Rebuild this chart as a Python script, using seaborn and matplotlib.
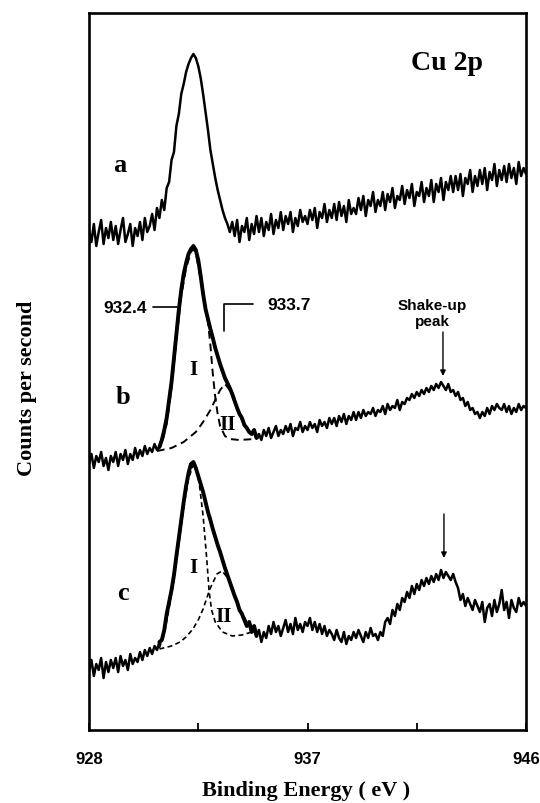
import numpy as np
import pandas as pd
import matplotlib
matplotlib.use("Agg")
import matplotlib.pyplot as plt
import seaborn as sns

# ---------------- data ----------------
energy = np.round(np.arange(928.0, 946.05, 0.1), 1)  # binding-energy grid, eV

spec_a = [
    500, 488, 506, 484, 498, 510, 486, 502, 492, 508,
    490, 504, 486, 500, 512, 488, 496, 506, 484, 502,
    494, 508, 490, 512, 498, 504, 516, 500, 522, 512,
    530, 520, 542, 548, 570, 578, 604, 616, 636, 646,
    658, 666, 672, 676, 672, 664, 652, 636, 618, 600,
    580, 566, 552, 540, 530, 520, 512, 506, 498, 508,
    494, 510, 488, 504, 498, 512, 490, 506, 496, 514,
    498, 512, 494, 508, 500, 516, 496, 510, 502, 518,
    500, 514, 506, 518, 498, 512, 504, 520, 508, 514,
    506, 520, 510, 522, 502, 518, 512, 526, 508, 520,
    512, 526, 510, 528, 514, 524, 508, 530, 516, 522,
    516, 532, 520, 534, 514, 530, 524, 538, 518, 530,
    524, 538, 520, 536, 528, 542, 522, 534, 530, 544,
    526, 540, 532, 546, 524, 538, 534, 548, 528, 542,
    534, 550, 528, 546, 538, 552, 530, 548, 540, 554,
    538, 554, 540, 556, 534, 552, 546, 560, 538, 554,
    544, 560, 546, 562, 540, 558, 550, 566, 544, 560,
    550, 564, 548, 566, 552, 562, 546, 568, 554, 562,
    556,
]

spec_b = [
    266, 276, 262, 274, 268, 278, 264, 272, 260, 274,
    268, 278, 264, 276, 270, 280, 266, 276, 270, 282,
    272, 280, 274, 284, 276, 282, 278, 286, 280, 283,
    290, 300, 312, 330, 348, 372, 396, 420, 440, 456,
    467, 476, 481, 484, 480, 470, 454, 436, 421, 411,
    401, 392, 382, 374, 366, 359, 352, 347, 342, 336,
    329, 322, 316, 312, 305, 302, 298, 296, 300, 292,
    296, 290, 300, 294, 302, 292, 298, 304, 294, 300,
    296, 304, 298, 306, 294, 302, 300, 308, 298, 304,
    300, 308, 302, 306, 298, 310, 304, 308, 302, 312,
    306, 312, 304, 314, 308, 316, 306, 314, 310, 318,
    310, 318, 312, 320, 314, 318, 316, 322, 314, 320,
    318, 324, 316, 326, 320, 324, 322, 330, 320, 328,
    326, 332, 330, 336, 332, 338, 334, 340, 336, 342,
    338, 344, 340, 346, 342, 348, 344, 340, 346, 338,
    340, 334, 338, 330, 332, 324, 328, 320, 322, 316,
    318, 312, 318, 314, 322, 316, 324, 320, 326, 322,
    320, 326, 318, 324, 316, 322, 318, 326, 320, 324,
    322,
]

spec_c = [
    58, 70, 54, 66, 60, 72, 52, 68, 58, 70,
    62, 72, 58, 74, 64, 70, 60, 76, 66, 72,
    68, 78, 70, 80, 74, 82, 76, 84, 80, 88,
    90, 100, 116, 128, 140, 155, 174, 192, 210, 228,
    244, 257, 266, 268, 262, 254, 246, 238, 228, 218,
    210, 201, 193, 185, 178, 170, 162, 155, 148, 141,
    134, 128, 120, 116, 110, 104, 108, 98, 104, 94,
    100, 88, 98, 92, 104, 96, 108, 98, 104, 94,
    102, 110, 98, 106, 96, 112, 100, 106, 98, 108,
    104, 112, 100, 108, 98, 106, 96, 104, 94, 100,
    96, 90, 100, 92, 88, 98, 86, 94, 90, 98,
    92, 100, 94, 88, 98, 92, 102, 94, 96, 90,
    98, 94, 108, 112, 106, 120, 114, 126, 120, 132,
    128, 138, 132, 144, 136, 146, 140, 150, 144, 152,
    146, 154, 148, 156, 150, 160, 152, 158, 154, 150,
    156, 148, 142, 130, 136, 124, 132, 126, 120, 130,
    124, 118, 128, 108, 122, 126, 114, 130, 118, 126,
    140, 120, 128, 112, 130, 122, 118, 132, 124, 128,
    124,
]

# fitted components (dashed)
b_I_x = [930.8, 931.0, 931.2, 931.4, 931.6, 931.8, 932.0, 932.2, 932.3, 932.4,
         932.6, 932.8, 932.9, 933.0, 933.1, 933.2, 933.3, 933.4, 933.6, 933.8,
         934.2, 934.8]
b_I_y = [279, 286, 306, 342, 390, 434, 462, 478, 481, 477,
         450, 420, 408, 385, 356, 333, 316, 304, 294, 291,
         290, 291]
b_II_x = [930.8, 931.4, 931.9, 932.4, 932.7, 933.0, 933.2, 933.4, 933.6, 933.8,
          934.0, 934.2, 934.4, 934.6, 934.8, 935.0]
b_II_y = [279, 282, 288, 298, 308, 320, 330, 340, 346, 340,
          328, 315, 305, 298, 294, 292]

c_I_x = [930.9, 931.1, 931.3, 931.5, 931.7, 931.9, 932.1, 932.3, 932.45, 932.55,
         932.7, 932.85, 932.95, 933.05, 933.2, 933.5, 933.9, 934.3, 934.7]
c_I_y = [82, 96, 122, 150, 186, 222, 252, 265, 258, 245,
         214, 171, 138, 120, 108, 98, 94, 95, 98]
c_II_x = [930.9, 931.4, 931.75, 932.0, 932.28, 932.5, 932.7, 932.98, 933.27, 933.48,
          933.72, 933.9, 934.2, 934.5, 934.8, 935.0]
c_II_y = [81, 84, 88, 93, 101, 110, 121, 141, 156, 159,
          152, 142, 122, 108, 100, 97]

trace_labels = ["a", "b", "c"]
x_ticks = [928, 932.5, 937, 941.5, 946]
x_tick_labels = ["928", "", "937", "", "946"]

# ---------------- styling ----------------
sns.set_theme(style="white")
plt.rcParams["font.family"] = ["Liberation Serif", "DejaVu Serif"]
plt.rcParams["text.color"] = "black"
plt.rcParams["axes.labelcolor"] = "black"
plt.rcParams["xtick.color"] = "black"
SANS = ["Liberation Sans", "DejaVu Sans"]
SERIF = ["Liberation Serif", "DejaVu Serif"]

fig = plt.figure(figsize=(5.4, 8.04), dpi=100)
ax = fig.add_axes([89 / 540, 1 - 731 / 804, (526 - 89) / 540, (731 - 14) / 804])

df = pd.DataFrame({"E": energy, "a": spec_a, "b": spec_b, "c": spec_c})
for col in ["a", "b", "c"]:
    sns.lineplot(data=df, x="E", y=col, ax=ax, color="black", lw=1.8,
                 sort=False, estimator=None)

# thicker envelope over the main peak of b and c
peak = df[(df["E"] >= 930.9) & (df["E"] <= 934.9)]
for col in ["b", "c"]:
    sns.lineplot(data=peak, x="E", y=col, ax=ax, color="black", lw=2.8,
                 sort=False, estimator=None)

# fit components
for xs, ys, dash, lw in [(b_I_x, b_I_y, (4, 2.5), 1.4), (b_II_x, b_II_y, (4, 2.5), 1.4),
                         (c_I_x, c_I_y, (3, 2), 1.2), (c_II_x, c_II_y, (3, 2), 1.2)]:
    sns.lineplot(x=xs, y=ys, ax=ax, color="black", lw=lw, sort=False,
                 estimator=None, dashes=False, linestyle=(0, dash))

ax.set_xlim(928, 946)
ax.set_ylim(0, 717)
ax.set_yticks([])
ax.set_xticks(x_ticks)
ax.set_xticklabels(x_tick_labels, fontfamily=SANS, fontweight="bold", fontsize=12,
                   color="black")
ax.tick_params(axis="x", direction="in", length=5, width=1.3, pad=15,
               bottom=True, top=False, colors="black")
for s in ax.spines.values():
    s.set_visible(True)
    s.set_color("black")
    s.set_linewidth(1.9)

ax.set_xlabel("Binding Energy ( eV )", fontfamily=SERIF, fontweight="bold",
              fontsize=16, color="black")
ax.xaxis.set_label_coords(0.497, -0.070)
ax.set_ylabel("Counts per second", fontfamily=SERIF, fontweight="bold",
              fontsize=16, color="black")
ax.yaxis.set_label_coords(-0.118, 0.478)

# texts
ax.text(942.74, 668, "Cu 2p", fontfamily=SERIF, fontweight="bold", fontsize=20,
        ha="center", va="center", color="black")
for lab, (xx, yy) in zip(trace_labels, [(929.25, 566), (929.4, 334), (929.4, 138)]):
    ax.text(xx, yy, lab, fontfamily=SERIF, fontweight="bold", fontsize=19,
            ha="center", va="center", color="black")

for xx, yy, t in [(932.28, 361, "I"), (933.7, 306, "II"),
                  (932.28, 163, "I"), (933.56, 114, "II")]:
    ax.text(xx, yy, t, fontfamily=SERIF, fontweight="bold", fontsize=15,
            ha="center", va="center", color="black")

# peak position markers
ax.text(930.39, 423, "932.4", fontfamily=SANS, fontweight="bold", fontsize=12.5,
        ha="right", va="center", color="black")
ax.plot([930.64, 931.62], [423, 423], color="black", lw=1.2)
ax.plot([933.56, 933.56, 934.75], [399, 426, 426], color="black", lw=1.2)
ax.text(935.33, 426, "933.7", fontfamily=SANS, fontweight="bold", fontsize=12.5,
        ha="left", va="center", color="black")

ax.text(942.13, 417, "Shake-up\npeak", fontfamily=SANS, fontweight="bold", fontsize=11,
        ha="center", va="center", linespacing=1.15, color="black")
ax.annotate("", xy=(942.58, 354), xytext=(942.58, 398),
            arrowprops=dict(arrowstyle="-|>", color="black", lw=1.0,
                            mutation_scale=8, shrinkA=0, shrinkB=0))
ax.annotate("", xy=(942.62, 172), xytext=(942.62, 216),
            arrowprops=dict(arrowstyle="-|>", color="black", lw=1.0,
                            mutation_scale=8, shrinkA=0, shrinkB=0))

fig.savefig("out.png", dpi=100, facecolor="white")
